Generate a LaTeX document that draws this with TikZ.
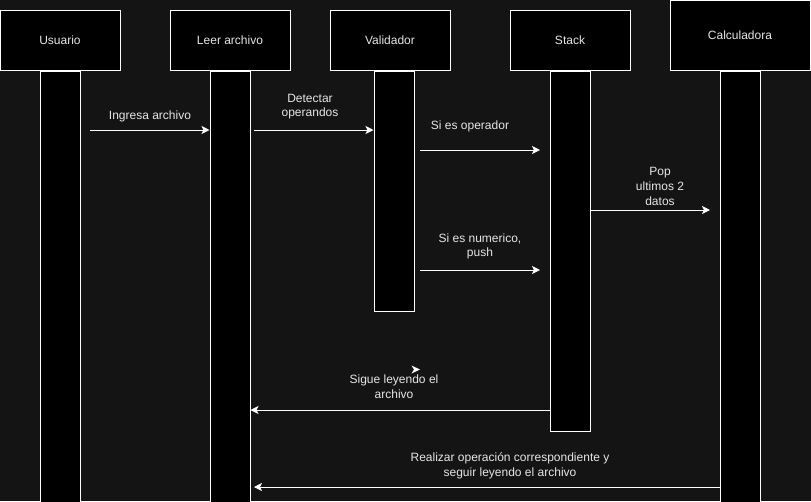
\documentclass[tikz,border=0pt]{standalone}
\usepackage{fontspec}
\setmainfont{Liberation Sans}
\usepackage{xcolor}
\usetikzlibrary{
    arrows.meta,
    calc,
    positioning
}
\definecolor{bgdark}{HTML}{141414}
\definecolor{txtgray}{HTML}{E6E6E6}

\begin{document}
\begin{tikzpicture}[x=0.75pt, y=-0.75pt,
    actor/.style={draw=white, fill=black, line width=0.75pt, minimum width=90pt, minimum height=45pt,
        text=txtgray, font=\fontsize{9}{11}\selectfont},
    lifebar/.style={draw=white, fill=black, line width=0.75pt, minimum width=30pt, inner sep=0pt},
    msg/.style={draw=white, line width=0.75pt, -{Stealth[length=6pt, width=6pt, inset=1.5pt]}},
    msgtxt/.style={text=txtgray, align=center, inner sep=0pt, font=\fontsize{9}{11}\selectfont}
]
    \useasboundingbox (0, 0) rectangle (811, 501);
    \fill[bgdark] (0, 0) rectangle (811, 501);

    \node[actor] (usuario) at (60, 40) {Usuario};
    \node[actor] (leer) at (230, 40) {Leer archivo};
    \node[actor] (validador) at (390, 40) {Validador};
    \node[actor] (stack) at (570, 40) {Stack};
    \node[actor, minimum width=105pt, minimum height=52.5pt] (calc) at (740, 35) {Calculadora};

    \node[lifebar, minimum height=324pt, below=0pt of usuario] (usuarioBar) {};
    \node[lifebar, minimum height=324pt, below=0pt of leer] (leerBar) {};
    \node[lifebar, minimum height=180pt, below=0pt of validador, xshift=3pt] (validadorBar) {};
    \node[lifebar, minimum height=270pt, below=0pt of stack] (stackBar) {};
    \node[lifebar, minimum height=324pt, below=0pt of calc] (calcBar) {};

    \coordinate (ingresaIni) at (90, 130);
    \coordinate (detectarIni) at (254, 130);
    \coordinate (operadorIni) at (420, 150);
    \coordinate (operadorFin) at (540, 150);
    \coordinate (popFin) at (710, 210);
    \coordinate (numericoIni) at (420, 270);
    \coordinate (numericoFin) at (540, 270);
    \coordinate (sigueY) at (0, 410);
    \coordinate (realizarFin) at (254, 487);

    \draw[msg] (ingresaIni) -- (ingresaIni -| leerBar.west);
    \draw[msg] (detectarIni) -- (detectarIni -| validadorBar.west);
    \draw[msg] (operadorIni) -- (operadorFin);
    \draw[msg] (stackBar.east |- popFin) -- (popFin);
    \draw[msg] (numericoIni) -- (numericoFin);
    \draw[msg] (stackBar.west |- sigueY) -- (leerBar.east |- sigueY);
    \draw[msg] (calcBar.west |- realizarFin) -- (realizarFin);

    \node[msgtxt] (ingresaTxt) at (150, 116) {Ingresa archivo};
    \node[msgtxt] (detectarTxt) at (310, 106.5) {Detectar\\operandos};
    \node[msgtxt] (operadorTxt) at (470, 126) {Si es operador};
    \node[msgtxt] (popTxt) at (660, 186.5) {Pop\\ultimos 2\\datos};
    \node[msgtxt] (numericoTxt) at (480, 246.5) {Si es numerico,\\push};
    \node[msgtxt] (sigueTxt) at (394, 386.5) {Sigue leyendo el\\archivo};
    \node[msgtxt] (realizarTxt) at (510, 466) {Realizar operación correspondiente y\\seguir leyendo el archivo};

    \fill[white] (420, 369.5) -- (411.5, 365.5) -- (414, 369.5) -- (411.5, 373.5) -- cycle;
\end{tikzpicture}
\end{document}
